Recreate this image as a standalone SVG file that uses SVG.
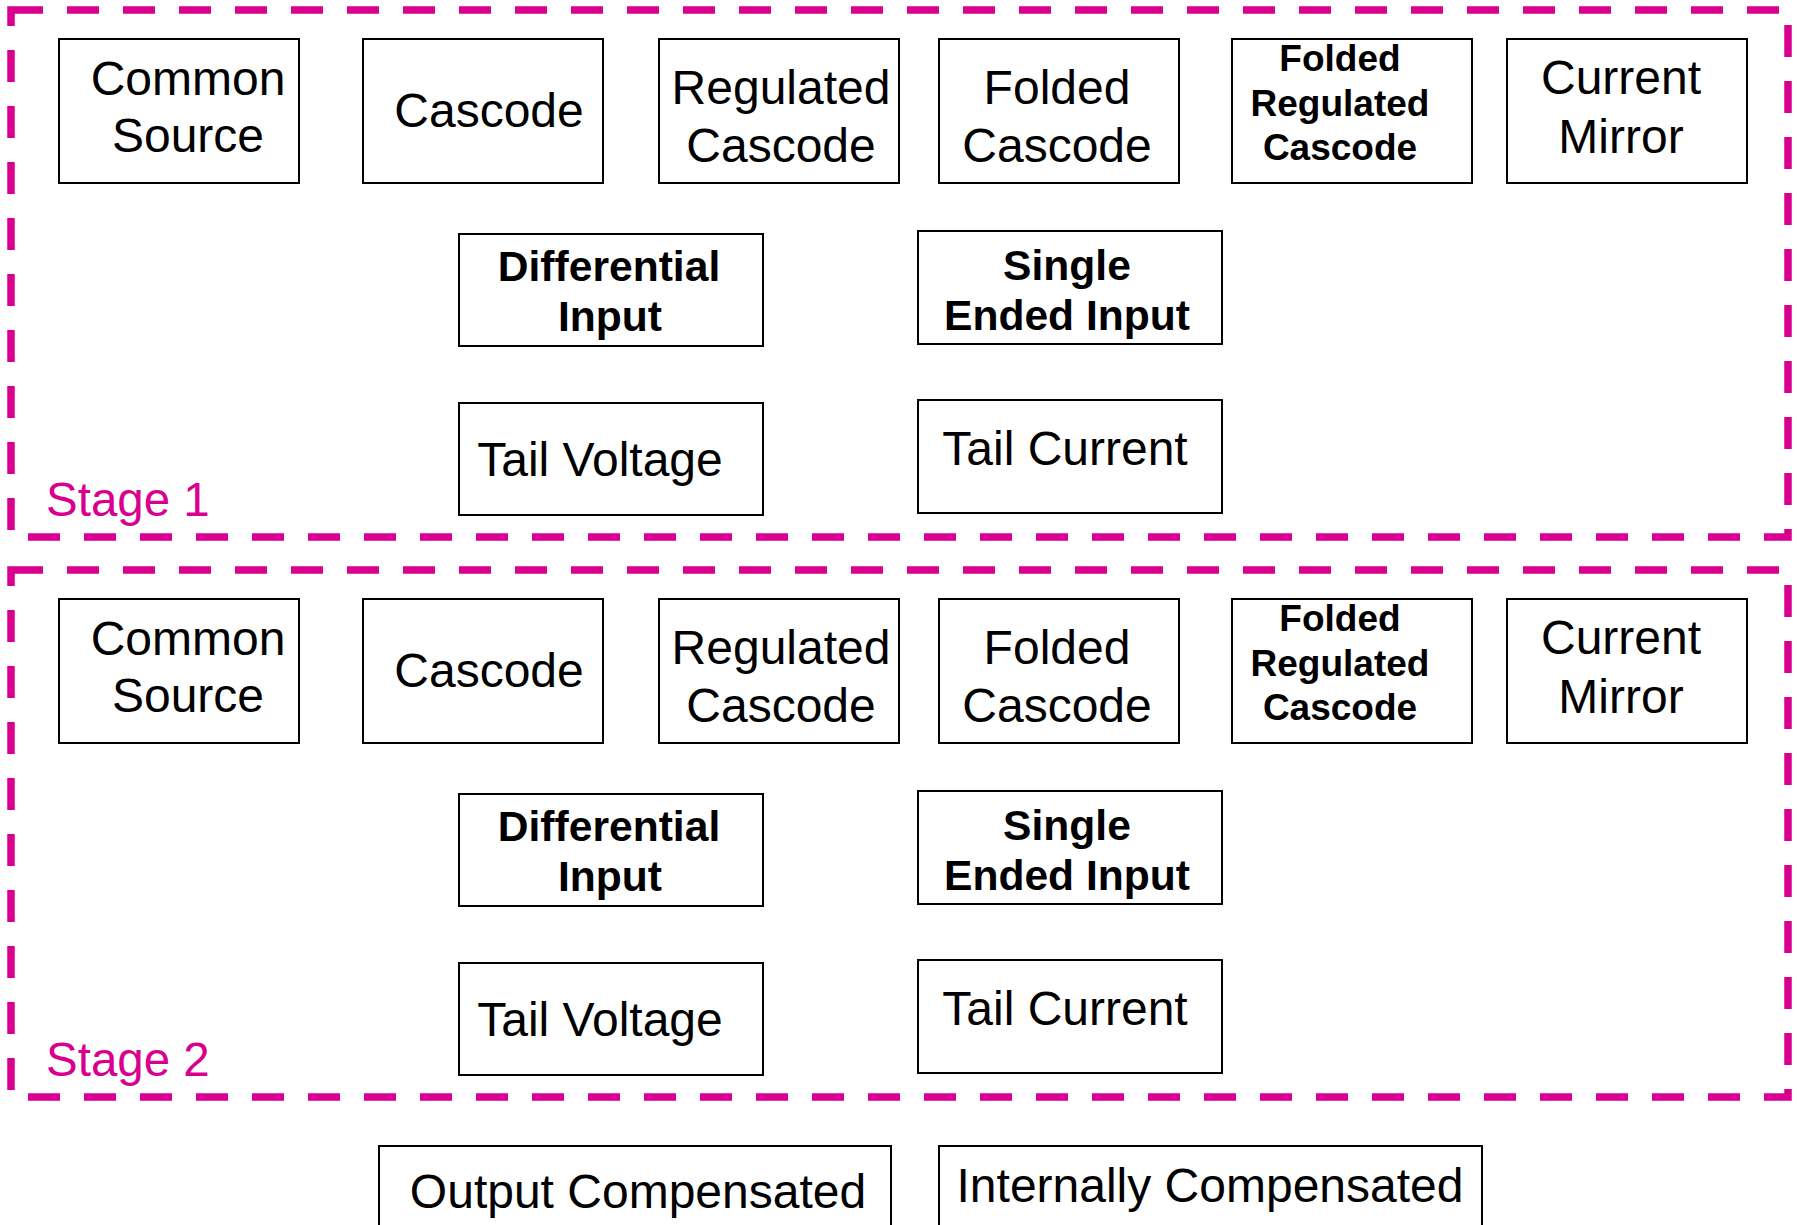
<svg xmlns="http://www.w3.org/2000/svg" width="1797" height="1225" viewBox="0 0 1797 1225">
<style>
.stage{fill:none;stroke:#D9008F;stroke-width:7.5;stroke-dasharray:32 24}
.box{fill:#fff;stroke:#000;stroke-width:2}
.r{font-family:"Liberation Sans",Arial,sans-serif;font-size:48px;fill:#000;text-anchor:middle}
.b{font-family:"Liberation Sans",Arial,sans-serif;font-size:42.6px;font-weight:bold;fill:#000;text-anchor:middle}
.b2{font-family:"Liberation Sans",Arial,sans-serif;font-size:37px;font-weight:bold;fill:#000;text-anchor:middle}
.lbl{font-family:"Liberation Sans",Arial,sans-serif;font-size:47.5px;fill:#D9008F}
</style>
<rect width="1797" height="1225" fill="#fff"/>
<g id="connectors"></g>
<g id="stage1">
<rect class="stage" x="11" y="10" width="1777" height="527"/>
<text class="lbl" x="46" y="516">Stage 1</text>
<g id="s1-common-source"><rect class="box" x="59" y="39" width="240" height="144"/><text class="r" x="188" y="95">Common</text><text class="r" x="188" y="152">Source</text></g>
<g id="s1-cascode"><rect class="box" x="363" y="39" width="240" height="144"/><text class="r" x="489" y="127">Cascode</text></g>
<g id="s1-regulated-cascode"><rect class="box" x="659" y="39" width="240" height="144"/><text class="r" x="781" y="104">Regulated</text><text class="r" x="781" y="162">Cascode</text></g>
<g id="s1-folded-cascode"><rect class="box" x="939" y="39" width="240" height="144"/><text class="r" x="1057" y="104">Folded</text><text class="r" x="1057" y="162">Cascode</text></g>
<g id="s1-folded-regulated-cascode"><rect class="box" x="1232" y="39" width="240" height="144"/><text class="b2" x="1340" y="71">Folded</text><text class="b2" x="1340" y="116">Regulated</text><text class="b2" x="1340" y="160">Cascode</text></g>
<g id="s1-current-mirror"><rect class="box" x="1507" y="39" width="240" height="144"/><text class="r" x="1621" y="94">Current</text><text class="r" x="1621" y="153">Mirror</text></g>
<g id="s1-differential-input"><rect class="box" x="459" y="234" width="304" height="112"/><text class="b" x="609" y="281">Differential</text><text class="b" x="610" y="331">Input</text></g>
<g id="s1-single-ended-input"><rect class="box" x="918" y="231" width="304" height="113"/><text class="b" x="1067" y="280">Single</text><text class="b" x="1067" y="330">Ended Input</text></g>
<g id="s1-tail-voltage"><rect class="box" x="459" y="403" width="304" height="112"/><text class="r" x="600" y="476">Tail Voltage</text></g>
<g id="s1-tail-current"><rect class="box" x="918" y="400" width="304" height="113"/><text class="r" x="1065" y="465">Tail Current</text></g>
</g>
<g id="stage2">
<rect class="stage" x="11" y="570" width="1777" height="527"/>
<text class="lbl" x="46" y="1076">Stage 2</text>
<g id="s2-common-source"><rect class="box" x="59" y="599" width="240" height="144"/><text class="r" x="188" y="655">Common</text><text class="r" x="188" y="712">Source</text></g>
<g id="s2-cascode"><rect class="box" x="363" y="599" width="240" height="144"/><text class="r" x="489" y="687">Cascode</text></g>
<g id="s2-regulated-cascode"><rect class="box" x="659" y="599" width="240" height="144"/><text class="r" x="781" y="664">Regulated</text><text class="r" x="781" y="722">Cascode</text></g>
<g id="s2-folded-cascode"><rect class="box" x="939" y="599" width="240" height="144"/><text class="r" x="1057" y="664">Folded</text><text class="r" x="1057" y="722">Cascode</text></g>
<g id="s2-folded-regulated-cascode"><rect class="box" x="1232" y="599" width="240" height="144"/><text class="b2" x="1340" y="631">Folded</text><text class="b2" x="1340" y="676">Regulated</text><text class="b2" x="1340" y="720">Cascode</text></g>
<g id="s2-current-mirror"><rect class="box" x="1507" y="599" width="240" height="144"/><text class="r" x="1621" y="654">Current</text><text class="r" x="1621" y="713">Mirror</text></g>
<g id="s2-differential-input"><rect class="box" x="459" y="794" width="304" height="112"/><text class="b" x="609" y="841">Differential</text><text class="b" x="610" y="891">Input</text></g>
<g id="s2-single-ended-input"><rect class="box" x="918" y="791" width="304" height="113"/><text class="b" x="1067" y="840">Single</text><text class="b" x="1067" y="890">Ended Input</text></g>
<g id="s2-tail-voltage"><rect class="box" x="459" y="963" width="304" height="112"/><text class="r" x="600" y="1036">Tail Voltage</text></g>
<g id="s2-tail-current"><rect class="box" x="918" y="960" width="304" height="113"/><text class="r" x="1065" y="1025">Tail Current</text></g>
</g>
<g id="output-compensated"><rect class="box" x="379" y="1146" width="512" height="100"/><text class="r" x="638" y="1208">Output Compensated</text></g>
<g id="internally-compensated"><rect class="box" x="939" y="1146" width="543" height="100"/><text class="r" x="1210" y="1202">Internally Compensated</text></g>
</svg>
